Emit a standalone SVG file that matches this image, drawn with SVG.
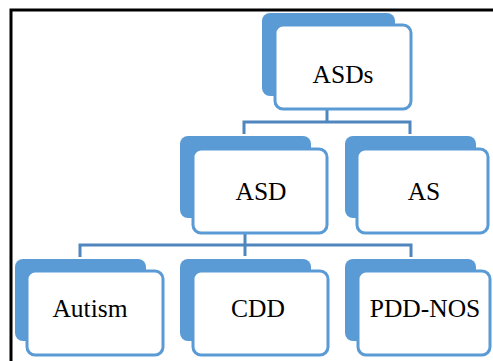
<svg xmlns="http://www.w3.org/2000/svg" width="493" height="361" viewBox="0 0 493 361">
<style>
.back{fill:#5b9bd5;}
.front{fill:#ffffff;stroke:#5b9bd5;stroke-width:3;}
.lbl{font-family:"Liberation Serif","Times New Roman",serif;font-size:25.5px;fill:#000;text-anchor:middle;}
.conn{fill:none;stroke:#4f86be;stroke-width:3;}
</style>
<rect width="493" height="361" fill="#ffffff"/>
<path d="M11 361 V10 H493" fill="none" stroke="#000" stroke-width="3"/>
<g id="connectors">
<path class="conn" d="M327 109 V122"/>
<path class="conn" d="M244 134 V122 H410 V134"/>
<path class="conn" d="M245 233 V256"/>
<path class="conn" d="M80 257 V245 H411 V257"/>
</g>
<g id="ASDs">
<rect class="back" x="262" y="13" width="133" height="83" rx="8"/>
<rect class="front" x="275" y="25" width="136" height="84" rx="8"/>
<text class="lbl" x="343" y="83">ASDs</text>
</g>
<g id="ASD">
<rect class="back" x="180" y="136" width="131" height="82" rx="8"/>
<rect class="front" x="193" y="149" width="134" height="84" rx="8"/>
<text class="lbl" x="261" y="200">ASD</text>
</g>
<g id="AS">
<rect class="back" x="345" y="136" width="131" height="82" rx="8"/>
<rect class="front" x="357" y="149" width="131" height="84" rx="8"/>
<text class="lbl" x="424" y="200">AS</text>
</g>
<g id="Autism">
<rect class="back" x="15" y="259" width="131" height="82" rx="8"/>
<rect class="front" x="27" y="271" width="136" height="84" rx="8"/>
<text class="lbl" x="90" y="317">Autism</text>
</g>
<g id="CDD">
<rect class="back" x="180" y="259" width="131" height="82" rx="8"/>
<rect class="front" x="193" y="271" width="135" height="84" rx="8"/>
<text class="lbl" x="258" y="317">CDD</text>
</g>
<g id="PDD-NOS">
<rect class="back" x="345" y="259" width="131" height="82" rx="8"/>
<rect class="front" x="358" y="271" width="132" height="84" rx="8"/>
<text class="lbl" x="425" y="317">PDD-NOS</text>
</g>
</svg>
